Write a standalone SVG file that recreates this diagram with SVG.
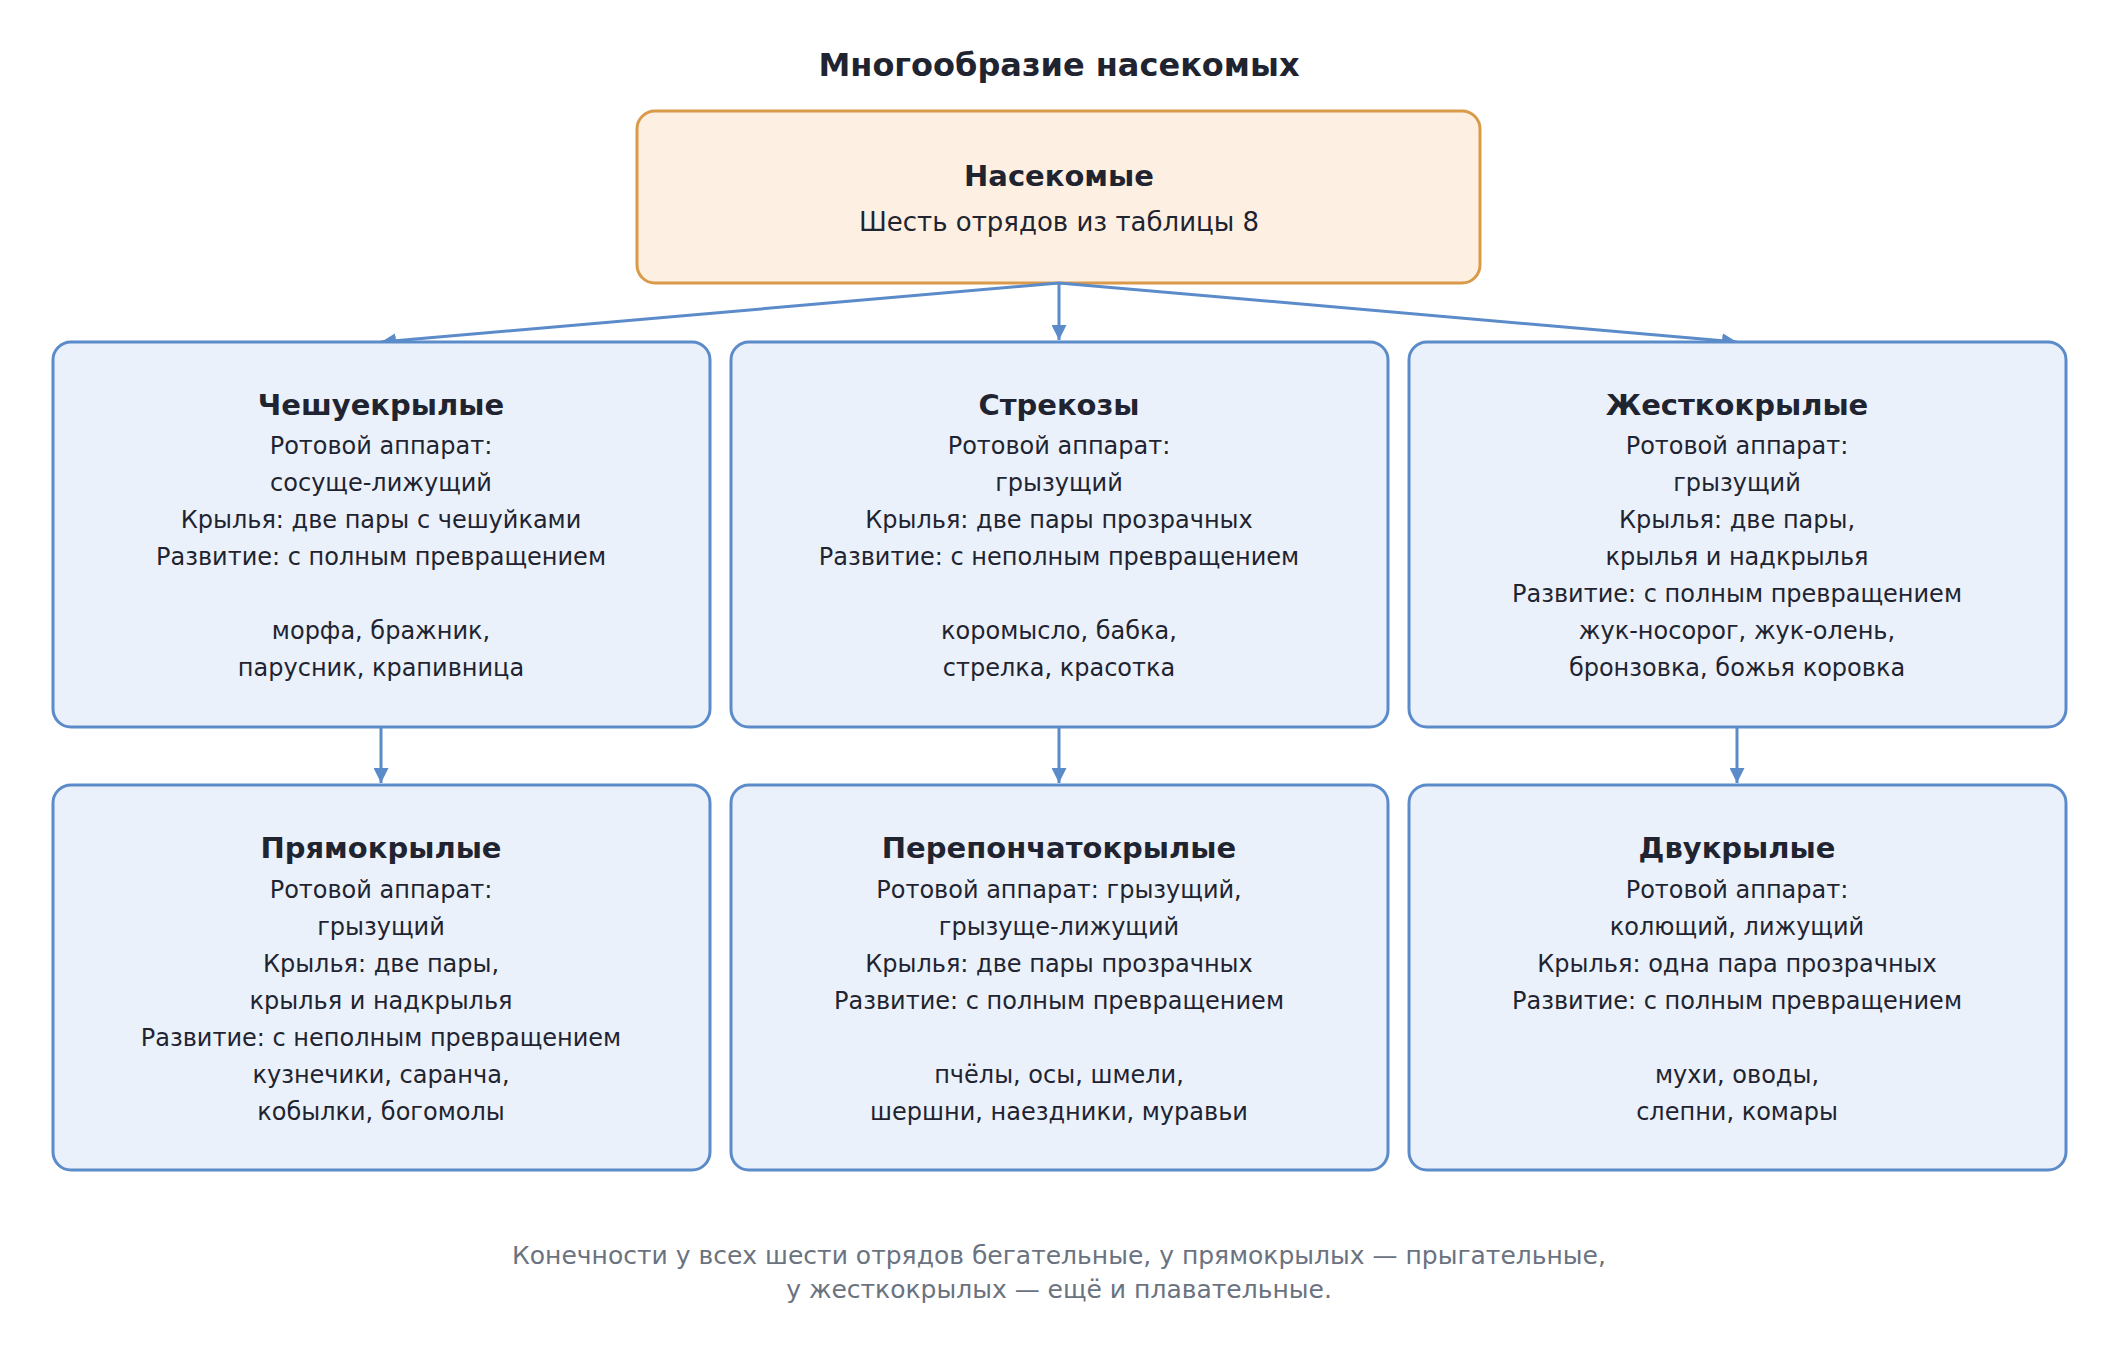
<svg xmlns="http://www.w3.org/2000/svg" width="2118" height="1348" viewBox="0 0 2118 1348">
<defs>
<marker id="ah" viewBox="0 0 10 10" refX="10" refY="5" markerWidth="5" markerHeight="5" orient="auto"><path d="M0,0 L10,5 L0,10 z" fill="#5b8bc9"/></marker>
<style>
text{font-family:"DejaVu Sans","Noto Sans",sans-serif;text-anchor:middle;dominant-baseline:central;fill:#1f2430}
.t{font-size:32px;font-weight:bold}
.h{font-size:29px;font-weight:bold}
.b{font-size:24px}
.f{font-size:25px;fill:#6b7280}
.n{fill:#eaf1fb;stroke:#5b8bc9;stroke-width:3}
.c line{stroke:#5b8bc9;stroke-width:3;marker-end:url(#ah)}
</style>
</defs>
<rect width="2118" height="1348" fill="#fff"/>
<text class="t" x="1059" y="65">Многообразие насекомых</text>
<g id="root"><rect x="637" y="111" width="843" height="172" rx="18" fill="#fdf0e3" stroke="#d99a4a" stroke-width="3"/>
<text class="h" x="1059" y="176">Насекомые</text><text x="1059" y="222" style="font-size:26px">Шесть отрядов из таблицы 8</text></g>
<g class="c">
<line x1="1059" y1="283" x2="381" y2="342"/><line x1="1059" y1="283" x2="1059" y2="340"/><line x1="1059" y1="283" x2="1737" y2="342"/>
<line x1="381" y1="727" x2="381" y2="783"/><line x1="1059" y1="727" x2="1059" y2="783"/><line x1="1737" y1="727" x2="1737" y2="783"/>
</g>
<g id="n1"><rect class="n" x="53" y="342" width="657" height="385" rx="18"/>
<text class="h" x="381" y="405">Чешуекрылые</text>
<text class="b" x="381" y="446">Ротовой аппарат:</text><text class="b" x="381" y="483">сосуще-лижущий</text><text class="b" x="381" y="520">Крылья: две пары с чешуйками</text><text class="b" x="381" y="557">Развитие: с полным превращением</text><text class="b" x="381" y="631">морфа, бражник,</text><text class="b" x="381" y="668">парусник, крапивница</text></g>
<g id="n2"><rect class="n" x="731" y="342" width="657" height="385" rx="18"/>
<text class="h" x="1059" y="405">Стрекозы</text>
<text class="b" x="1059" y="446">Ротовой аппарат:</text><text class="b" x="1059" y="483">грызущий</text><text class="b" x="1059" y="520">Крылья: две пары прозрачных</text><text class="b" x="1059" y="557">Развитие: с неполным превращением</text><text class="b" x="1059" y="631">коромысло, бабка,</text><text class="b" x="1059" y="668">стрелка, красотка</text></g>
<g id="n3"><rect class="n" x="1409" y="342" width="657" height="385" rx="18"/>
<text class="h" x="1737" y="405">Жесткокрылые</text>
<text class="b" x="1737" y="446">Ротовой аппарат:</text><text class="b" x="1737" y="483">грызущий</text><text class="b" x="1737" y="520">Крылья: две пары,</text><text class="b" x="1737" y="557">крылья и надкрылья</text><text class="b" x="1737" y="594">Развитие: с полным превращением</text><text class="b" x="1737" y="631">жук-носорог, жук-олень,</text><text class="b" x="1737" y="668">бронзовка, божья коровка</text></g>
<g id="n4"><rect class="n" x="53" y="785" width="657" height="385" rx="18"/>
<text class="h" x="381" y="848">Прямокрылые</text>
<text class="b" x="381" y="890">Ротовой аппарат:</text><text class="b" x="381" y="927">грызущий</text><text class="b" x="381" y="964">Крылья: две пары,</text><text class="b" x="381" y="1001">крылья и надкрылья</text><text class="b" x="381" y="1038">Развитие: с неполным превращением</text><text class="b" x="381" y="1075">кузнечики, саранча,</text><text class="b" x="381" y="1112">кобылки, богомолы</text></g>
<g id="n5"><rect class="n" x="731" y="785" width="657" height="385" rx="18"/>
<text class="h" x="1059" y="848">Перепончатокрылые</text>
<text class="b" x="1059" y="890">Ротовой аппарат: грызущий,</text><text class="b" x="1059" y="927">грызуще-лижущий</text><text class="b" x="1059" y="964">Крылья: две пары прозрачных</text><text class="b" x="1059" y="1001">Развитие: с полным превращением</text><text class="b" x="1059" y="1075">пчёлы, осы, шмели,</text><text class="b" x="1059" y="1112">шершни, наездники, муравьи</text></g>
<g id="n6"><rect class="n" x="1409" y="785" width="657" height="385" rx="18"/>
<text class="h" x="1737" y="848">Двукрылые</text>
<text class="b" x="1737" y="890">Ротовой аппарат:</text><text class="b" x="1737" y="927">колющий, лижущий</text><text class="b" x="1737" y="964">Крылья: одна пара прозрачных</text><text class="b" x="1737" y="1001">Развитие: с полным превращением</text><text class="b" x="1737" y="1075">мухи, оводы,</text><text class="b" x="1737" y="1112">слепни, комары</text></g>
<text class="f" x="1059" y="1255">Конечности у всех шести отрядов бегательные, у прямокрылых — прыгательные,</text>
<text class="f" x="1059" y="1289">у жесткокрылых — ещё и плавательные.</text>
</svg>
